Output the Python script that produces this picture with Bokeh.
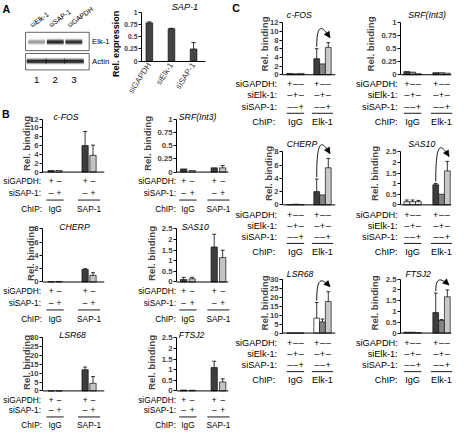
import numpy as np
from bokeh.plotting import figure
from bokeh.models import (Range1d, FixedTicker, CustomJSTickFormatter, Span,
                          Arrow, NormalHead, Grid)
from bokeh.layouts import row, column
from bokeh.core.properties import value
from bokeh.embed import file_html
from bokeh.resources import INLINE

S = 0.964
FONT = "Liberation Sans"


def R(v):
    return int(round(v * S))


def fpx(size):
    return f"{size * S:.2f}px"

# ---------------- data ----------------
blot_lanes = ["siElk-1", "siSAP-1", "siGAPDH"]
blot_numbers = ["1", "2", "3"]
blot_rows = ["Elk-1", "Actin"]
blot_elk1 = [0.35, 1.0, 0.95]
blot_actin = [1.0, 1.0, 1.0]

a_labels = ["siGAPDH", "siElk-1", "siSAP-1"]
a_expr = [0.78, 0.66, 0.25]
a_err = [0.02, 0.01, 0.13]
a_ticks = [0, 0.25, 0.5, 0.75, 1]

ticks_12 = [0, 2, 4, 6, 8, 10, 12]
ticks_1 = [0, 0.25, 0.5, 0.75, 1]
ticks_8 = [0, 2, 4, 6, 8]
ticks_25 = [0, 0.5, 1, 1.5, 2, 2.5]
ticks_30 = [0, 5, 10, 15, 20, 25, 30]

b_groups = ["IgG", "SAP-1"]
b_rows = ["siGAPDH:", "siSAP-1:"]
b_signs = [["+", "–"], ["–", "+"]]
b_colors = ["#3d3d3d", "#c4c4c4", "#3d3d3d", "#c4c4c4"]

b_cfos = [0.35, 0.35, 6.0, 3.8]
b_cfos_err = [0, 0, 3.2, 2.3]
b_srf = [0.06, 0.03, 0.08, 0.08]
b_srf_err = [0, 0, 0, 0.045]
b_cherp = [0.05, 0.08, 1.9, 1.0]
b_cherp_err = [0, 0, 0.1, 0.4]
b_sas10 = [0.12, 0.15, 1.65, 1.15]
b_sas10_err = [0.1, 0.07, 0.6, 0.35]
b_lsr68 = [0, 0, 12, 4.3]
b_lsr68_err = [0, 0, 1.5, 3.8]
b_ftsj2 = [0.04, 0.03, 1.1, 0.42]
b_ftsj2_err = [0, 0, 0.3, 0.15]

c_groups = ["IgG", "Elk-1"]
c_rows = ["siGAPDH:", "siElk-1:", "siSAP-1:"]
c_signs = [["+", "–", "–"], ["–", "+", "–"], ["–", "–", "+"]]
c_colors = ["#3d3d3d", "#858585", "#c8c8c8", "#3d3d3d", "#858585", "#c8c8c8"]
c_sas10_colors = ["#ececec", "#ececec", "#ececec", "#3d3d3d", "#858585", "#c8c8c8"]
c_lsr68_colors = ["#3d3d3d", "#858585", "#c8c8c8", "#ffffff", "#858585", "#c8c8c8"]

c_cfos = [0.3, 0.2, 0.3, 3.7, 2.5, 6.3]
c_cfos_err = [0, 0, 0, 2.3, 0, 1.1]
c_srf = [0.06, 0.05, 0.02, 0.04, 0.04, 0.03]
c_srf_err = [0, 0, 0, 0, 0, 0]
c_cherp = [0.05, 0.1, 0.05, 2.0, 1.5, 5.6]
c_cherp_err = [0, 0, 0, 1.9, 0, 1.4]
c_sas10 = [0.15, 0.15, 0.15, 0.95, 0.5, 1.6]
c_sas10_err = [0.08, 0.08, 0.06, 0.06, 0, 0.45]
c_lsr68 = [0, 0, 0, 8.3, 6.2, 17.5]
c_lsr68_err = [0, 0, 0, 8.7, 1.6, 5.5]
c_ftsj2 = [0.04, 0.04, 0.02, 0.95, 0.58, 1.68]
c_ftsj2_err = [0, 0, 0, 0.9, 0.05, 0.32]

# ---------------- layout geometry (reference pixels) ----------------
SPLIT = 239
GEO_BL = dict(tx0=0, fx0=12, fx1=118, axis=44, first=52.5, unit=8.2, goff=4.3, end=108,
              bw=6.5, lab=42, chip=43, ul=(9, 11.5), fs=8.6, roff=(9.5, 21.5, 29, 38), ls=-5)
GEO_BR = dict(tx0=118, fx0=118, fx1=SPLIT, axis=183, first=190, unit=8.8, goff=3.6, end=237,
              bw=6.5, lab=182, chip=182, ul=(9, 11.5), fs=8.6, roff=(9.5, 21.5, 29, 38), ls=2)
GEO_CL = dict(tx0=SPLIT, fx0=250, fx1=356, axis=293, first=300, unit=6, goff=4.67, end=348,
              bw=6, lab=287, chip=285, ul=(9, 11), fs=9.5, roff=(10, 21.5, 33, 40, 49), ls=-3)
GEO_CR = dict(tx0=356, fx0=356, fx1=475, axis=415, first=421.5, unit=6, goff=5, end=468,
              bw=6, lab=412, chip=412, ul=(9, 11), fs=9.5, roff=(10, 21.5, 33, 40, 49), ls=3)

ROW_B1 = dict(fy0=110, ytop=123, y0=178, cb=182.6, tb=225, toff=2.5)
ROW_B2 = dict(fy0=225, ytop=237, y0=292, cb=296.6, tb=340, toff=2.5)
ROW_B3 = dict(fy0=340, ytop=350, y0=405, cb=409.6, tb=446, toff=2.5,
              roff=(9, 20, 27, 35.5))
ROW_C1 = dict(fy0=0, ytop=23, y0=77, cb=81.6, tb=142, toff=8)
ROW_C2 = dict(fy0=142, ytop=157, y0=212, cb=216.6, tb=277, toff=8)
ROW_C3 = dict(fy0=277, ytop=289, y0=345, cb=349.6, tb=446, toff=5)


def base_fig(w, h, xr, yr, bl=0, br=0, bt=0, bb=0, xloc=None, yloc=None):
    p = figure(width=w, height=h, x_range=xr, y_range=yr, title=None,
               output_backend="svg", toolbar_location=None,
               min_border_left=bl, min_border_right=br, min_border_top=bt,
               min_border_bottom=bb, x_axis_location=xloc, y_axis_location=yloc)
    p.center = [c for c in p.center if not isinstance(c, Grid)]
    p.outline_line_color = None
    p.background_fill_color = "white"
    p.border_fill_color = "white"
    try:
        p.frame_align = False
    except Exception:
        pass
    return p


def txt(p, xs, ys, texts, size, align="center", baseline="middle", style="normal", angle=0.0):
    p.text(x=list(xs), y=list(ys), text=list(texts), angle=angle,
           text_font=value(FONT), text_font_size=value(fpx(size)),
           text_font_style=style, text_align=align, text_baseline=baseline,
           text_color="black")


def style_yaxis(ax, ticks, ymax, label, tick_fs, label_fs, standoff=-3):
    ax.ticker = FixedTicker(ticks=ticks)
    ax.formatter = CustomJSTickFormatter(code="return String(Math.round(tick*100)/100);")
    ax.bounds = (0, ymax)
    ax.major_tick_out = 3
    ax.major_tick_in = 0
    ax.minor_tick_out = 0
    ax.minor_tick_in = 0
    ax.major_label_standoff = 1
    ax.major_label_text_font = FONT
    ax.major_label_text_font_size = fpx(tick_fs)
    ax.major_label_text_font_style = "bold"
    if label:
        ax.axis_label = label
        ax.axis_label_text_font = FONT
        ax.axis_label_text_font_size = fpx(label_fs)
        ax.axis_label_text_font_style = "bold"
        ax.axis_label_standoff = standoff
    ax.axis_line_color = "black"
    ax.major_tick_line_color = "black"


def error_bars(p, xpos, vals, errs, cw):
    ex = [x for x, e in zip(xpos, errs) if e > 0]
    ev = [v for v, e in zip(vals, errs) if e > 0]
    et = [v + e for v, e in zip(vals, errs) if e > 0]
    if not ex:
        return
    p.segment(x0=ex, y0=ev, x1=ex, y1=et, line_color="black", line_width=0.8)
    p.segment(x0=[x - cw for x in ex], y0=et, x1=[x + cw for x in ex], y1=et,
              line_color="black", line_width=0.8)


def bar_panel(geo, rg, groups, rows, signs, title, title_dx, vals, errs, colors,
              ymax, ticks, arrow_h=None, letter=None):
    first, unit = geo["first"], geo["unit"]

    def xm(px):
        return (px - first) / unit

    ky = (rg["y0"] - rg["ytop"]) / ymax

    def ym(py):
        return (rg["y0"] - py) / ky

    ftop = max(rg["fy0"], rg["ytop"] - rg["toff"] - 6.5)
    nper = len(vals) // len(groups)
    xpos = [g * geo["goff"] + j for g in range(len(groups)) for j in range(nper)]
    fx0 = geo["fx0"] if letter else geo["tx0"]
    fx1 = geo["fx1"]
    W = R(fx1) - R(fx0)
    H = R(rg["cb"]) - R(rg["fy0"])
    xr = Range1d(xm(R(geo["axis"]) / S), xm(R(geo["end"]) / S))
    yr = Range1d(ym(R(rg["cb"]) / S), ym(R(ftop) / S))
    p = base_fig(W, H, xr, yr, bl=R(geo["axis"]) - R(fx0), br=R(fx1) - R(geo["end"]),
                 bt=R(ftop) - R(rg["fy0"]), bb=0, yloc="left")
    style_yaxis(p.yaxis[0], ticks, ymax, "Rel. binding", 8, 10, geo["ls"])
    p.add_layout(Span(location=0, dimension="width", line_color="black", line_width=1))
    bw = geo["bw"] / unit
    p.vbar(x=xpos, top=vals, bottom=0, width=bw, fill_color=colors,
           line_color="#111111", line_width=0.7)
    error_bars(p, xpos, vals, errs, bw * 0.32)
    txt(p, [xm(geo["axis"] + title_dx)], [ym(rg["ytop"] - rg["toff"])], [title], 9,
        align="left", style="italic")
    if arrow_h is not None:
        i1, i3 = nper, 2 * nper - 1
        ys_ = vals[i1] + errs[i1] + 2 / ky
        ye_ = vals[i3] + errs[i3] + 5 / ky
        peak = max(ys_, ye_) + arrow_h / ky
        xs_ = xpos[i1]
        xe_ = xpos[i3] + 0.3
        cx1 = xe_ - 1.5
        p.bezier(x0=[xs_], y0=[ys_], x1=[xe_], y1=[ye_], cx0=[xs_], cy0=[peak],
                 cx1=[cx1], cy1=[peak], line_color="black", line_width=0.9)
        hx = xe_ - 0.25 * (xe_ - cx1)
        hy = ye_ + 0.25 * (peak - ye_)
        p.add_layout(Arrow(end=NormalHead(size=6, fill_color="black", line_color="black",
                                          line_width=0.5),
                           x_start=hx, y_start=hy, x_end=xe_, y_end=ye_,
                           line_color="black", line_width=0.9))

    # table of treatments below the chart
    tx0 = geo["tx0"]
    t_xr = Range1d(xm(R(tx0) / S), xm(R(fx1) / S))
    t_yr = Range1d(R(rg["tb"]) / S, R(rg["cb"]) / S)
    t = base_fig(R(fx1) - R(tx0), R(rg["tb"]) - R(rg["cb"]), t_xr, t_yr)
    fs = geo["fs"]
    roff = rg.get("roff", geo["roff"])
    y0 = rg["y0"]
    for r, lab in enumerate(rows):
        yy = y0 + roff[r]
        txt(t, [xm(geo["lab"])], [yy], [lab], fs, align="right")
        txt(t, xpos, [yy] * len(xpos), signs[r] * len(groups), fs)
    gcs = [float(np.mean(xpos[g * nper:(g + 1) * nper])) for g in range(len(groups))]
    uy = y0 + roff[len(rows)]
    hws = [geo["ul"][g] / unit for g in range(len(groups))]
    t.segment(x0=[c - h for c, h in zip(gcs, hws)], y0=[uy] * len(gcs),
              x1=[c + h for c, h in zip(gcs, hws)], y1=[uy] * len(gcs),
              line_color="black", line_width=0.9)
    cy = y0 + roff[len(rows) + 1]
    txt(t, [xm(geo["chip"])], [cy], ["ChIP:"], fs, align="right")
    txt(t, gcs, [cy] * len(gcs), groups, fs)

    if letter:
        lf = base_fig(R(geo["fx0"]) - R(tx0), H,
                      Range1d(R(tx0) / S, R(geo["fx0"]) / S),
                      Range1d(R(rg["cb"]) / S, R(rg["fy0"]) / S))
        txt(lf, [tx0 + 1.5], [rg["fy0"] + 8], [letter], 11, align="left", style="bold")
        return column(row(lf, p, spacing=0), row(t, spacing=0), spacing=0)
    return column(row(p, spacing=0), row(t, spacing=0), spacing=0)


# ---------------- panel A: western blot ----------------
lane0, lane_w = 37.5, 19.3
A_SPLIT = 126


def bl(px):
    return (px - lane0) / lane_w


blot = base_fig(R(A_SPLIT), R(110), Range1d(bl(0), bl(R(A_SPLIT) / S)),
                Range1d(R(110) / S, 0))
lanes_x = list(range(len(blot_lanes)))
blot.quad(left=[bl(26)] * 2, right=[bl(92)] * 2, top=[33, 55], bottom=[52, 72],
          fill_color=None, line_color="#555555", line_width=0.9)
for rowy, inten, w in [(43, blot_elk1, 0.9), (63, blot_actin, 1.06)]:
    for h, a in [(7, 0.18), (5, 0.35), (3, 0.8)]:
        blot.rect(x=lanes_x, y=[rowy] * len(lanes_x), width=w, height=h,
                  fill_color="#151515", fill_alpha=[a * i for i in inten], line_color=None)
txt(blot, [bl(95)] * 2, [43, 63], blot_rows, 8, align="left")
txt(blot, lanes_x, [82] * 3, blot_numbers, 10)
txt(blot, [x - 0.2 for x in lanes_x], [29] * 3, blot_lanes, 7.2, align="left",
    baseline="bottom", angle=0.62)
txt(blot, [bl(2)], [9], ["A"], 11, align="left", style="bold")
# y-axis title of the expression chart (sits left of its tick labels)
txt(blot, [bl(120)], [45], ["Rel. expression"], 9.3, style="bold", angle=np.pi / 2)

# ---------------- panel A: SAP-1 expression ----------------


def xa(px):
    return (px - 153.5) / 23.3


def ya(py):
    return (63 - py) / 51


afig = base_fig(R(SPLIT) - R(A_SPLIT), R(110),
                Range1d(xa(R(145) / S), xa(R(213) / S)),
                Range1d(ya(R(63) / S), ya(R(1) / S)),
                bl=R(145) - R(A_SPLIT), br=R(SPLIT) - R(213), bt=R(1), bb=R(110) - R(63),
                xloc="below", yloc="left")
style_yaxis(afig.yaxis[0], a_ticks, 1, None, 7, 9.5)
a_x = list(range(len(a_labels)))
afig.vbar(x=a_x, top=a_expr, bottom=0, width=7 / 23.3, fill_color="#444444",
          line_color="#111111", line_width=0.7)
error_bars(afig, a_x, a_expr, a_err, 0.1)
xax = afig.xaxis[0]
xax.ticker = FixedTicker(ticks=a_x)
xax.formatter = CustomJSTickFormatter(args=dict(labels=a_labels),
                                      code="return labels[Math.round(tick)] || '';")
xax.major_label_orientation = 1.0
xax.major_tick_out = 0
xax.major_tick_in = 0
xax.minor_tick_out = 0
xax.minor_tick_in = 0
xax.major_label_standoff = 2
xax.major_label_text_font = FONT
xax.major_label_text_font_size = fpx(8.5)
xax.axis_line_color = "black"
txt(afig, [xa(191)], [ya(7)], ["SAP-1"], 9.5, style="italic")

# ---------------- assemble ----------------
B1 = row(bar_panel(GEO_BL, ROW_B1, b_groups, b_rows, b_signs, "c-FOS", 11, b_cfos, b_cfos_err,
                   b_colors, 12, ticks_12, letter="B"),
         bar_panel(GEO_BR, ROW_B1, b_groups, b_rows, b_signs, "SRF(Int3)", 2, b_srf, b_srf_err,
                   b_colors, 1, ticks_1), spacing=0)
B2 = row(bar_panel(GEO_BL, ROW_B2, b_groups, b_rows, b_signs, "CHERP", 17, b_cherp, b_cherp_err,
                   b_colors, 8, ticks_8),
         bar_panel(GEO_BR, ROW_B2, b_groups, b_rows, b_signs, "SAS10", 5, b_sas10, b_sas10_err,
                   b_colors, 2.5, ticks_25), spacing=0)
B3 = row(bar_panel(GEO_BL, ROW_B3, b_groups, b_rows, b_signs, "LSR68", 17, b_lsr68, b_lsr68_err,
                   b_colors, 30, ticks_30),
         bar_panel(GEO_BR, ROW_B3, b_groups, b_rows, b_signs, "FTSJ2", 2, b_ftsj2, b_ftsj2_err,
                   b_colors, 2.5, ticks_25), spacing=0)

C1 = row(bar_panel(GEO_CL, ROW_C1, c_groups, c_rows, c_signs, "c-FOS", 4, c_cfos, c_cfos_err,
                   c_colors, 12, ticks_12, arrow_h=14, letter="C"),
         bar_panel(GEO_CR, ROW_C1, c_groups, c_rows, c_signs, "SRF(Int3)", 8, c_srf, c_srf_err,
                   c_colors, 1, ticks_1), spacing=0)
C2 = row(bar_panel(GEO_CL, ROW_C2, c_groups, c_rows, c_signs, "CHERP", 4, c_cherp, c_cherp_err,
                   c_colors, 8, ticks_8, arrow_h=15),
         bar_panel(GEO_CR, ROW_C2, c_groups, c_rows, c_signs, "SAS10", 8, c_sas10, c_sas10_err,
                   c_sas10_colors, 2.5, ticks_25, arrow_h=15), spacing=0)
C3 = row(bar_panel(GEO_CL, ROW_C3, c_groups, c_rows, c_signs, "LSR68", 4, c_lsr68, c_lsr68_err,
                   c_lsr68_colors, 30, ticks_30, arrow_h=10),
         bar_panel(GEO_CR, ROW_C3, c_groups, c_rows, c_signs, "FTSJ2", 5, c_ftsj2, c_ftsj2_err,
                   c_colors, 2.5, ticks_25, arrow_h=8), spacing=0)

left = column(row(blot, afig, spacing=0), B1, B2, B3, spacing=0)
right = column(C1, C2, C3, spacing=0)
layout = row(left, right, spacing=0)

open("out.html", "w").write(file_html(layout, INLINE))
